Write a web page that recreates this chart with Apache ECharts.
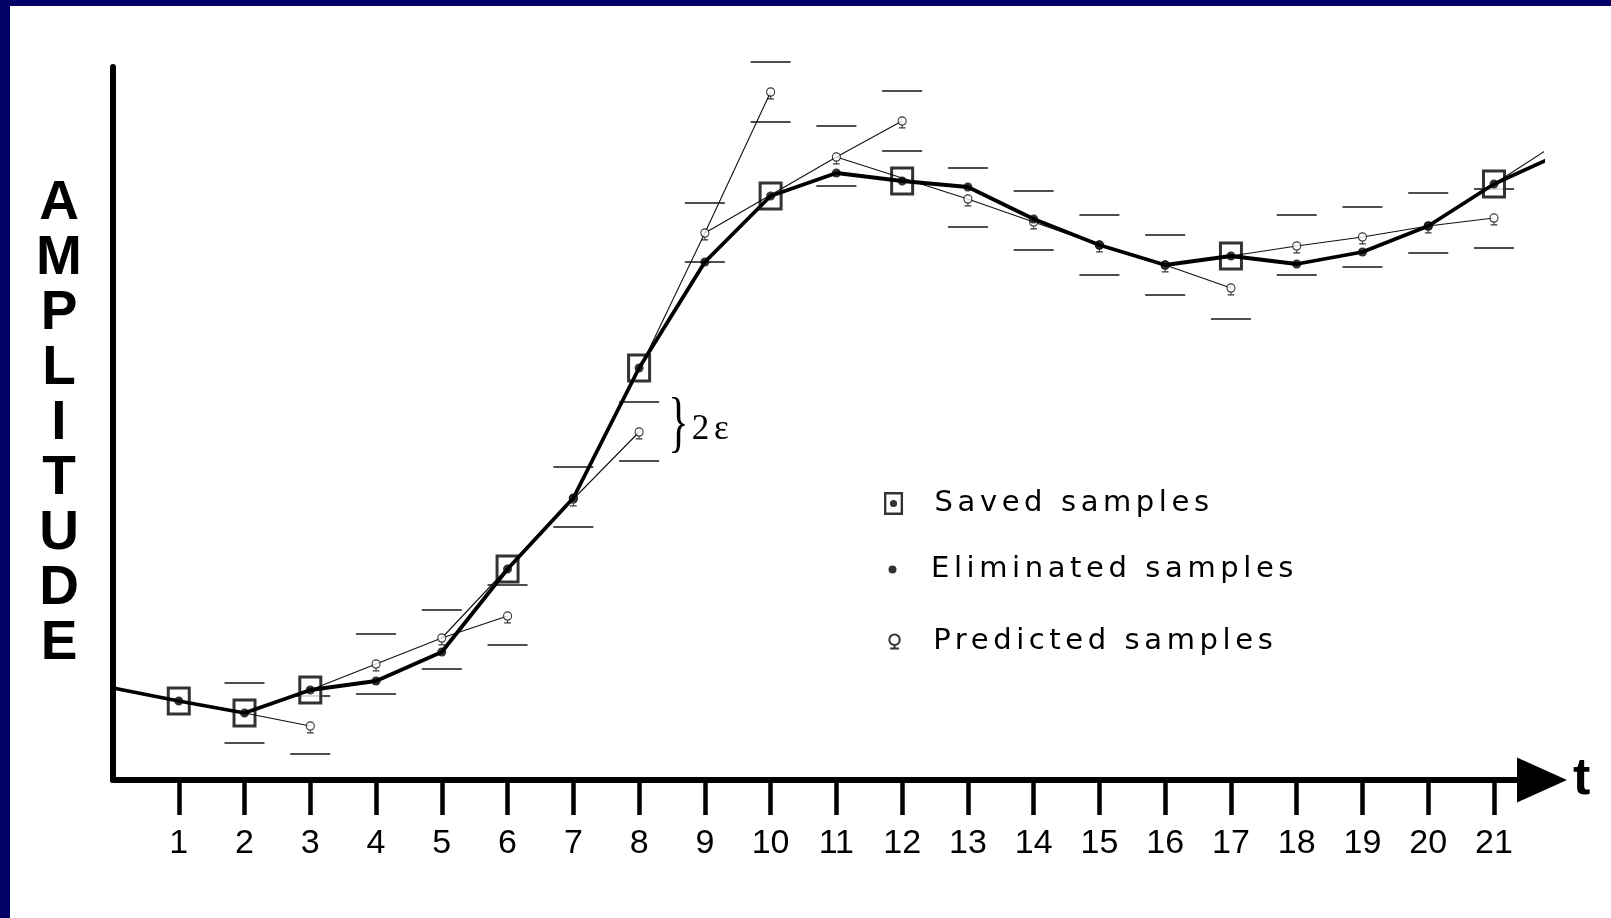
<!DOCTYPE html>
<html>
<head>
<meta charset="utf-8">
<script src="https://cdn.jsdelivr.net/npm/echarts@6/dist/echarts.min.js"></script>
<style>
html,body{margin:0;padding:0;background:#fff;}
#c{width:1611px;height:918px;}
</style>
</head>
<body>
<div id="c"></div>
<script>
// ---------------- data ----------------
const tickValues = [1,2,3,4,5,6,7,8,9,10,11,12,13,14,15,16,17,18,19,20,21];
const tickLabels = ['1','2','3','4','5','6','7','8','9','10','11','12','13','14','15','16','17','18','19','20','21'];

// original signal (thick line), t = 0 .. 21 plus the run-out beyond 21
const signalT = [0,1,2,3,4,5,6,7,8,9,10,11,12,13,14,15,16,17,18,19,20,21,21.8];
const signalV = [9.2,7.9,6.7,9.0,9.9,12.8,21.1,28.2,41.2,51.8,58.4,60.7,59.9,59.3,56.1,53.5,51.5,52.4,51.6,52.8,55.4,59.6,62.0];

const savedT = [1,2,3,6,8,10,12,17,21];
const eliminatedT = [4,5,7,9,11,13,14,15,16,18,19,20];

// predicted samples
const predT = [3,4,5,6,7,8,9,10,11,12,13,14,15,16,17,18,19,20,21];
const predV = [5.4,11.6,14.2,16.4,28.1,34.8,54.7,68.8,62.3,65.9,58.1,55.8,53.5,51.5,49.2,53.4,54.3,55.4,56.2];

// prediction lines (thin)
const predLine1 = [[1,7.9],[2,6.7],[3,5.4]];
const predLine2 = [[3,9.0],[4,11.6],[5,14.2],[6,16.4]];
const predLine3 = [[5,14.2],[6,21.2],[7,28.1],[8,34.8]];
const predLine4 = [[8,41.0],[9,54.7],[10,68.8]];
const predLine5 = [[9,54.7],[10,58.5],[11,62.3],[12,65.9]];
const predLine6 = [[11,62.3],[12,60.2],[13,58.1],[14,55.8],[15,53.5],[16,51.5],[17,49.2]];
const predLine7 = [[17,52.4],[18,53.4],[19,54.3],[20,55.4],[21,56.2]];
const predLine8 = [[21,59.6],[21.8,63.0]];

// tolerance band (+/- epsilon) bars
const tolT    = [2,3,4,5,6,7,8,9,10,11,12,13,14,15,16,17,18,19,20,21];
const tolHigh = [9.7,8.4,14.6,17.0,19.5,31.3,37.8,57.7,71.8,65.4,68.9,61.2,58.9,56.5,54.5,52.2,56.5,57.3,58.7,59.1];
const tolLow  = [3.7,2.6,8.6,11.1,13.5,25.3,31.9,51.8,65.8,59.4,62.9,55.3,53.0,50.5,48.5,46.1,50.5,51.3,52.7,53.2];

// "2ε" annotation anchor (next to the t = 8 band)
const epsNote = [8.62, 35.0];
const epsText = '2ε';

const legendNames = ['Saved samples','Eliminated samples','Predicted samples'];

// ---------------- letter spacing for legend labels ----------------
(function(){
  const proto = CanvasRenderingContext2D.prototype;
  const orig = proto.fillText;
  proto.fillText = function(text, x, y, maxW){
    if (legendNames.indexOf(text) >= 0 && ('letterSpacing' in this)) {
      const prev = this.letterSpacing;
      this.letterSpacing = '4.6px';
      if (maxW === undefined) orig.call(this, text, x, y); else orig.call(this, text, x, y, maxW);
      this.letterSpacing = prev;
      return;
    }
    if (maxW === undefined) return orig.call(this, text, x, y);
    return orig.call(this, text, x, y, maxW);
  };
})();

// ---------------- build ----------------
const sigAt = t => signalV[signalT.indexOf(t)];
const savedData = savedT.map(t => [t, sigAt(t)]);
const elimData = eliminatedT.map(t => [t, sigAt(t)]);
const predData = predT.map((t, i) => [t, predV[i]]);
const signalData = signalT.map((t, i) => [t, signalV[i]]);
const tolData = [];
tolT.forEach((t, i) => { tolData.push([t, tolHigh[i]]); tolData.push([t, tolLow[i]]); });

const savedPath = 'path://M0,0 L24,0 L24,29 L0,29 Z M3,3 L3,26 L21,26 L21,3 Z M16.5,14.5 A4.5,4.5 0 1 1 7.5,14.5 A4.5,4.5 0 1 1 16.5,14.5 Z';
const predPath = 'path://M1,3.5 A3,3 0 1 1 7,3.5 A3,3 0 1 1 1,3.5 Z M4,6.5 L4,8 M1.5,8.5 L6.5,8.5';

const thin = (data) => ({
  type: 'line', data: data, showSymbol: false, symbol: 'none', silent: true, clip: false, z: 4,
  lineStyle: { width: 1.1, color: '#111' }, emphasis: { disabled: true }
});

const chart = echarts.init(document.getElementById('c'), null, { renderer: 'canvas' });

const legendText = { fontSize: 29, fontFamily: 'DejaVu Sans', color: '#000' };

chart.setOption({
  animation: false,
  backgroundColor: '#ffffff',
  graphic: [
    { type: 'rect', shape: { x: 0, y: 0, width: 1611, height: 6 }, style: { fill: '#000066' }, silent: true },
    { type: 'rect', shape: { x: 0, y: 0, width: 10, height: 918 }, style: { fill: '#000066' }, silent: true }
  ],
  grid: { left: 113, right: 69, top: 67, bottom: 138, containLabel: false, outerBoundsMode: 'none' },
  xAxis: {
    type: 'value', min: 0, max: 21.73, interval: 1,
    name: 't', nameLocation: 'end', nameGap: 31,
    nameTextStyle: { fontSize: 52, fontWeight: 'bold', fontFamily: 'Liberation Sans', color: '#000', verticalAlign: 'middle' },
    axisLine: { show: true, onZero: false, symbol: ['none', 'triangle'], symbolSize: [45, 50],
      lineStyle: { color: '#000', width: 6 } },
    axisTick: { show: true, customValues: tickValues, length: 35, lineStyle: { color: '#000', width: 4.5 } },
    axisLabel: { show: true, customValues: tickValues, margin: 47, fontSize: 34, fontFamily: 'Liberation Sans', color: '#000',
      formatter: v => { const i = tickValues.indexOf(v); return i >= 0 ? tickLabels[i] : ''; } },
    splitLine: { show: false }
  },
  yAxis: {
    type: 'value', min: 0, max: 71.3,
    name: 'A\nM\nP\nL\nI\nT\nU\nD\nE', nameLocation: 'middle', nameRotate: 0, nameGap: 54,
    nameTextStyle: { fontSize: 55, fontWeight: 'bold', fontFamily: 'Liberation Sans', color: '#000', lineHeight: 55,
      align: 'center', verticalAlign: 'middle' },
    axisLine: { show: true, onZero: false, lineStyle: { color: '#000', width: 6 } },
    axisTick: { show: false }, axisLabel: { show: false }, splitLine: { show: false }
  },
  legend: [
    { data: [{ name: 'Saved samples', icon: savedPath }], selectedMode: false, padding: 0,
      left: 884, top: 489, itemWidth: 72, itemHeight: 23, textStyle: legendText },
    { data: [{ name: 'Eliminated samples', icon: 'circle' }], selectedMode: false, padding: 0,
      left: 888.5, top: 555, itemWidth: 67, itemHeight: 8, textStyle: legendText },
    { data: [{ name: 'Predicted samples', icon: predPath }], selectedMode: false, padding: 0,
      left: 888.3, top: 627, itemWidth: 67.4, itemHeight: 14, textStyle: legendText }
  ],
  series: [
    { type: 'scatter', name: 'tolerance', data: tolData, symbol: 'rect', symbolSize: [40, 1.8], clip: false, silent: true, z: 2,
      itemStyle: { color: '#222' } },
    { type: 'scatter', name: 'saved-bg', data: savedData, symbol: 'rect', symbolSize: [24, 29], clip: false, silent: true, z: 3,
      itemStyle: { color: '#fff' } },
    thin(predLine1), thin(predLine2), thin(predLine3), thin(predLine4),
    thin(predLine5), thin(predLine6), thin(predLine7), thin(predLine8),
    { type: 'scatter', name: 'Predicted samples', data: predData, symbol: predPath, symbolSize: [8, 11], symbolOffset: [0, 1.4],
      clip: false, silent: true, z: 5, itemStyle: { color: '#fff', borderColor: '#000', borderWidth: 1.2 } },
    { type: 'line', name: 'signal', data: signalData, showSymbol: false, symbol: 'none', clip: false, silent: true, z: 6,
      lineStyle: { width: 3.8, color: '#000' } },
    { type: 'scatter', name: 'Saved samples', data: savedData, symbol: savedPath, symbolSize: [24, 29], clip: false, silent: true, z: 7,
      itemStyle: { color: '#000' } },
    { type: 'scatter', name: 'Eliminated samples', data: elimData, symbol: 'circle', symbolSize: 9, clip: false, silent: true, z: 7,
      itemStyle: { color: '#000' } },
    { type: 'custom', name: 'epsilon', data: [epsNote], clip: false, silent: true, z: 8,
      renderItem: function (params, api) {
        const p = api.coord([api.value(0), api.value(1)]);
        return { type: 'group', children: [
          { type: 'text', x: p[0], y: p[1] - 4, scaleX: 0.62,
            style: { text: '}', fontSize: 68, fontFamily: 'Liberation Serif', fill: '#000', align: 'center', verticalAlign: 'middle' } },
          { type: 'text', x: p[0] + 12, y: p[1],
            style: { text: epsText, fontSize: 35, fontFamily: 'Liberation Serif', fill: '#000', align: 'left', verticalAlign: 'middle' } }
        ] };
      } }
  ]
});
</script>
</body>
</html>
